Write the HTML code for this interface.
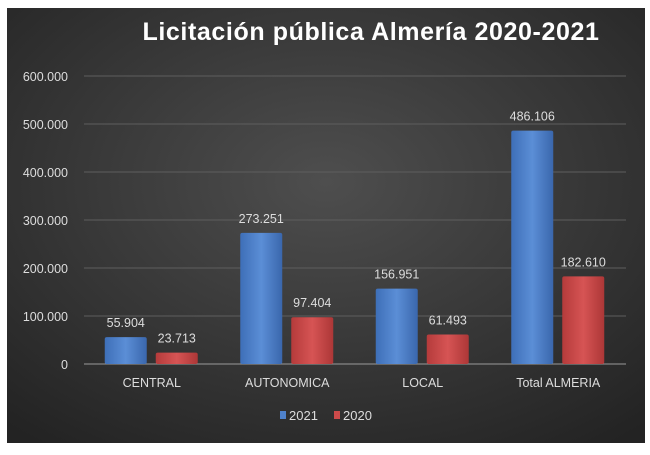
<!DOCTYPE html>
<html><head><meta charset="utf-8"><style>
body{margin:0;background:#fff;width:650px;height:450px;overflow:hidden;font-family:"Liberation Sans",sans-serif}
</style></head><body>
<svg width="650" height="450">
<defs>
<radialGradient id="bg" cx="50%" cy="40%" r="75%"><stop offset="0" stop-color="#4e4e4e"/><stop offset="1" stop-color="#232323"/></radialGradient>
<linearGradient id="gb" x1="0" x2="1"><stop offset="0" stop-color="#3e6fb8"/><stop offset="0.5" stop-color="#5b8ed6"/><stop offset="1" stop-color="#3a67ad"/></linearGradient>
<linearGradient id="gr" x1="0" x2="1"><stop offset="0" stop-color="#b53b3b"/><stop offset="0.5" stop-color="#d65454"/><stop offset="1" stop-color="#ad3737"/></linearGradient>
</defs>
<rect x="7" y="8" width="638" height="435" fill="url(#bg)"/>
<text x="371" y="40" text-anchor="middle" fill="#fff" font-size="25" font-weight="bold" letter-spacing="0.6">Licitación pública Almería 2020-2021</text>
<g id="g"></g>
</svg>
<script>
const categories=["CENTRAL","AUTONOMICA","LOCAL","Total ALMERIA"];
const s2021=[55904,273251,156951,486106];
const s2020=[23713,97404,61493,182610];
const ticks=[0,100000,200000,300000,400000,500000,600000];
const tickLabels=["0","100.000","200.000","300.000","400.000","500.000","600.000"];
const g=document.getElementById('g');const NS="http://www.w3.org/2000/svg";
const y=v=>364-v/100000*48;const x0=84,cw=135.5;
function mk(t,a,txt){const e=document.createElementNS(NS,t);for(const k in a)e.setAttribute(k,a[k]);if(txt!=null)e.textContent=txt;g.appendChild(e);return e;}
const fmt=v=>v.toLocaleString('de-DE');
ticks.forEach((t,i)=>{
 const l=mk('line',{x1:84,x2:626,y1:y(t),y2:y(t),stroke:i?'#5e5e5e':'#9a9a9a','stroke-width':1});
 
 
 const tx=mk('text',{x:68,y:y(t)+5,'text-anchor':'end',fill:'#ddd','font-size':12.5},tickLabels[i]);
 
 
});
categories.forEach((c,i)=>{
 const cx=x0+cw*i+cw/2;
 [[s2021[i],'url(#gb)',cx-47],[s2020[i],'url(#gr)',cx+4]].forEach(([v,f,bx],j)=>{
  const r=mk('rect',{x:bx,y:y(v),width:42,height:364-y(v),fill:f,rx:2});
  
  
  const t=mk('text',{x:bx+21,y:y(v)-10,'text-anchor':'middle',fill:'#ddd','font-size':12.5},fmt(v));
  
  
 });
 const t=mk('text',{x:cx,y:387,'text-anchor':'middle',fill:'#ddd','font-size':12.5},c);
 
 
});
[['2021','#4f82cc',280],['2020','#cc4a4a',334]].forEach(([n,c,lx])=>{
 const r=mk('rect',{x:lx,y:411,width:6,height:8,fill:c});
 
 
 const t=mk('text',{x:lx+9,y:420,fill:'#ddd','font-size':13},n);
 
 
});
</script>
</body></html>
